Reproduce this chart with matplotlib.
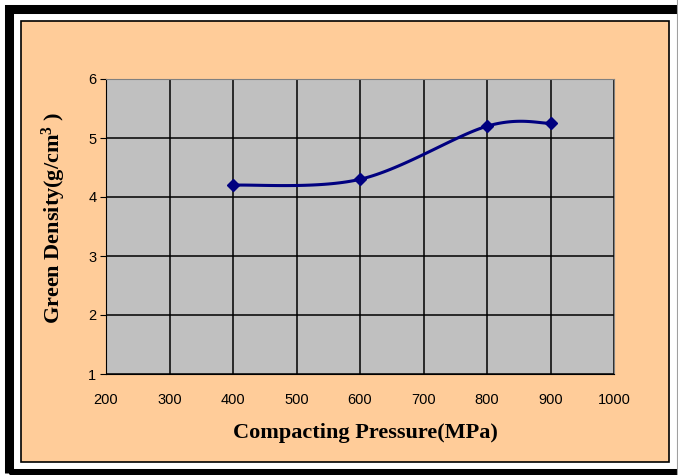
import numpy as np
import matplotlib.pyplot as plt
from matplotlib.patches import Rectangle

PEACH = "#FFCC99"
PLOT_BG = "#C0C0C0"
NAVY = "#000080"

pressure = [400, 600, 800, 900]
density = [4.2, 4.3, 5.2, 5.25]
x_ticks = [200, 300, 400, 500, 600, 700, 800, 900, 1000]
y_ticks = [1, 2, 3, 4, 5, 6]

plt.rcParams["mathtext.fontset"] = "custom"
plt.rcParams["mathtext.rm"] = "Liberation Serif:bold"
plt.rcParams["mathtext.it"] = "Liberation Serif:bold"
plt.rcParams["mathtext.bf"] = "Liberation Serif:bold"


def smooth(xs, ys, n=40):
    # Excel-style smoothed line: cubic Bezier through points, Catmull-Rom controls
    p = np.column_stack([xs, ys]).astype(float)
    p = np.vstack([p[0], p, p[-1]])
    out = []
    for i in range(1, len(p) - 2):
        p0, p1, p2, p3 = p[i - 1], p[i], p[i + 1], p[i + 2]
        c1 = p1 + (p2 - p0) / 6
        c2 = p2 - (p3 - p1) / 6
        t = np.linspace(0, 1, n)[:, None]
        seg = ((1 - t) ** 3) * p1 + 3 * ((1 - t) ** 2) * t * c1 \
            + 3 * (1 - t) * t ** 2 * c2 + t ** 3 * p2
        out.append(seg)
    out = np.vstack(out)
    return out[:, 0], out[:, 1]


W, H = 678, 475
fig = plt.figure(figsize=(W / 100, H / 100), dpi=100)
fig.patch.set_facecolor("white")

# outer black frame (runs off the right edge), white gap, peach panel
fig.patches.append(Rectangle((8.5 / W, 2 / H), 675 / W, 464 / H, transform=fig.transFigure,
                             facecolor="none", edgecolor="black", linewidth=6.5, zorder=-2))
fig.patches.append(Rectangle((21 / W, 13 / H), 648 / W, 441 / H, transform=fig.transFigure,
                             facecolor=PEACH, edgecolor="black", linewidth=1.2, zorder=-1))
fig.lines.append(plt.Line2D([677 / W, 677 / W], [0, 1], transform=fig.transFigure,
                            color="#A0A0A0", linewidth=0.8, zorder=-1))

ax = fig.add_axes([106 / W, (H - 374) / H, 508 / W, 295 / H])
ax.set_facecolor(PLOT_BG)
ax.set_xlim(200, 1000)
ax.set_ylim(1, 6)
ax.set_xticks(x_ticks)
ax.set_yticks(y_ticks)
ax.grid(True, color="black", linewidth=1.1)
ax.set_axisbelow(True)
for side in ["top", "right"]:
    ax.spines[side].set_color("#808080")
for side in ["left", "bottom"]:
    ax.spines[side].set_color("black")
ax.tick_params(axis="y", length=4, color="black", labelsize=10.5, pad=3,
               labelfontfamily="Liberation Sans")
ax.tick_params(axis="x", length=0, labelsize=10.5, pad=14,
               labelfontfamily="Liberation Sans")

sx, sy = smooth(pressure, density)
ax.plot(sx, sy, color=NAVY, linewidth=2.2)
ax.plot(pressure, density, linestyle="none", marker="D", color=NAVY, markersize=6.5)

ax.set_xlabel("Compacting Pressure(MPa)", fontfamily="Liberation Serif",
              fontweight="bold", fontsize=16)
ax.set_ylabel(r"Green Density(g/cm$^{3}$ )", fontfamily="Liberation Serif",
              fontweight="bold", fontsize=16)
ax.xaxis.set_label_coords(0.51, -0.165)
ax.yaxis.set_label_coords(-0.075, 0.53)

fig.savefig("out.png", dpi=100, facecolor=fig.get_facecolor())
